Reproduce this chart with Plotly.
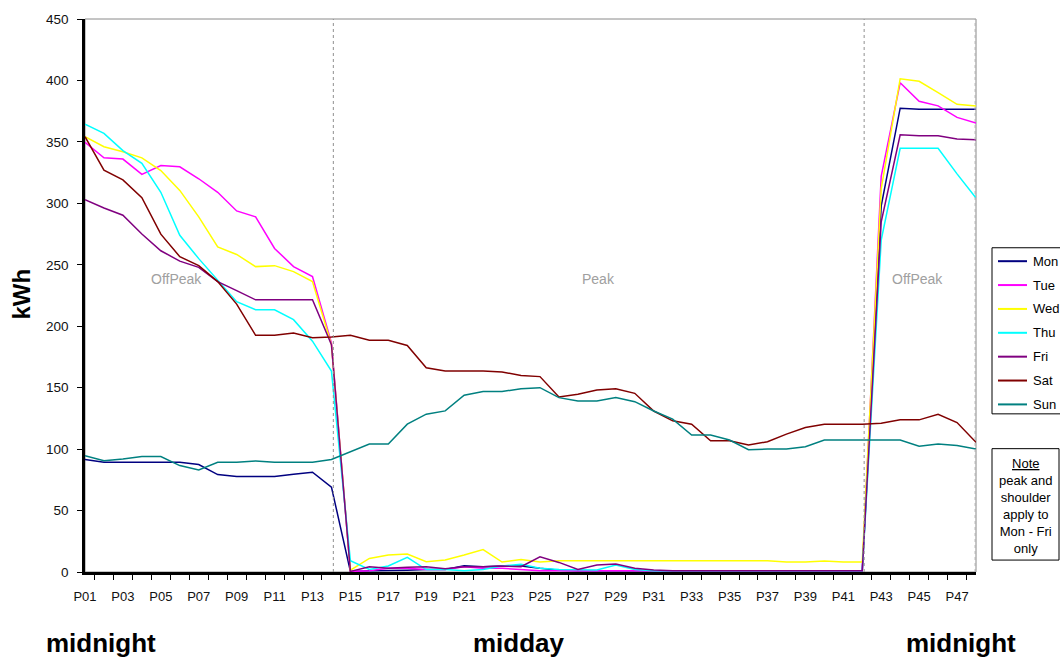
import plotly.graph_objects as go

# Half-hourly trading periods across one day
periods = [f"P{i:02d}" for i in range(1, 49)]

# Average half-hourly consumption (kWh) by day of week
mon = [91.5, 89.3, 89.3, 89.3, 89.3, 89.3, 87.4, 79.3, 77.7, 77.7, 77.7, 79.6, 81.2, 69.1,
       0.5, 1, 1, 1.5, 2, 2, 5, 4.3, 4.9, 4.9, 3, 1.5, 1, 1, 1, 1, 1, 1, 1, 1, 1, 1, 1, 1, 1, 1, 1, 1,
       298, 377.4, 376.6, 376.6, 376.6, 376.6]
tue = [349.6, 337, 336, 323.5, 330.7, 329.7, 320, 309, 293.8, 289, 263.3, 248.5, 240.4, 186.4,
       0.5, 1, 3, 3, 2, 2, 4.3, 3, 3, 2, 1, 1, 1, 1, 1, 1, 1, 1, 1, 1, 1, 1, 1, 1, 1, 1, 1, 1,
       322, 398.2, 383, 379.3, 369.9, 365.3]
wed = [354.2, 346.1, 342, 337, 326.7, 310.5, 289, 264.6, 258.4, 248.5, 249.3, 244.4, 236.3, 185,
       1.5, 11, 13.8, 14.6, 8.4, 9.7, 13.8, 18.3, 8.1, 10.2, 8.1, 9.2,
       9.2, 9.2, 9.2, 9.2, 9.2, 9.2, 9.2, 9.2, 9.2, 9.2, 9.2, 8.1, 8.1, 9.0, 8.1, 8.1,
       312, 401.4, 399.3, 390, 380.6, 379.3]
thu = [364.5, 356.9, 342.9, 332.6, 309, 274, 255, 237.7, 220, 213.4, 213.4, 205.3, 187.8, 163.5,
       9.2, 2, 4.9, 11.9, 2, 2, 1, 2, 4.9, 6.2, 3, 2, 1.6, 1.6, 5.7, 2,
       1, 1, 1, 1, 1, 1, 1, 1, 1, 1, 1, 1,
       270, 344.8, 344.8, 344.8, 324, 304.3]
fri = [303, 296.2, 290.3, 275, 261.4, 253, 247.9, 236.3, 229, 221.5, 221.5, 221.5, 221.5, 185,
       0.5, 4.3, 3, 3.8, 4.3, 2.7, 4.3, 4.3, 4.9, 4.3, 12.4, 7.8, 2, 5.7, 6.5, 3, 1.6,
       1, 1, 1, 1, 1, 1, 1, 1, 1, 1, 1,
       285, 355.8, 355, 355, 352.3, 351.8]
sat = [354.2, 327, 319.1, 304.6, 274.9, 256.6, 249.3, 236.3, 218, 192.6, 192.6, 194.5, 190.7, 191.3,
       192.6, 188.6, 188.6, 184.3, 166.2, 163.5, 163.5, 163.5, 162.7, 160, 159, 142.4, 144.6, 148.1,
       149.2, 145.4, 131,
       123, 120.3, 106.8, 106.8, 103.3, 106, 112.2, 117.6, 120.3, 120.3, 120.3, 121.1, 123.8, 123.8,
       128.4, 121.6, 105.5]
sun = [94.7, 90.6, 92, 93.9, 93.9, 86.6, 83.1, 89.3, 89.3, 90.4, 89.3, 89.3, 89.3, 91.5,
       97.9, 104.1, 104.1, 120.3, 128.4, 131.1, 143.8, 146.8, 146.8, 149.2, 150, 141.9, 139.2, 139.2,
       141.9, 138.6, 131,
       124.4, 111.4, 111.4, 107.4, 99.5, 100, 100, 102, 107.4, 107.4, 107.4, 107.4, 107.4, 102.3,
       104.1, 103, 100]

day_names = ["Mon", "Tue", "Wed", "Thu", "Fri", "Sat", "Sun"]
day_values = [mon, tue, wed, thu, fri, sat, sun]
day_colors = ["#000080", "#FF00FF", "#FFFF00", "#00FFFF", "#800080", "#800000", "#008080"]

# Tariff band boundaries (period index) and band labels
band_edges = [13.1, 41.1]
band_labels = ["OffPeak", "Peak", "OffPeak"]
band_label_pos = [4.8, 27.1, 43.9]
time_labels = ["midnight", "midday", "midnight"]

FONT = "Liberation Sans, Arial, sans-serif"
W, H = 1060, 657
ML, MR, MT, MB = 85, 84, 16, 85
PW, PH = W - ML - MR, H - MT - MB


def px_x(px):
    return (px - ML) / PW


def px_y(py):
    return (H - MB - py) / PH


x_idx = list(range(len(periods)))

fig = go.Figure()
for name, vals, col in zip(day_names, day_values, day_colors):
    fig.add_trace(go.Scatter(x=x_idx, y=vals, mode="lines", name=name,
                             line=dict(color=col, width=1.5), showlegend=False))

shapes = []
# grey plot-area frame
shapes.append(dict(type="rect", xref="paper", yref="paper", x0=0, x1=1, y0=0, y1=1,
                   line=dict(color="#8a8a8a", width=1), layer="below"))
# dotted tariff boundaries
for xe in band_edges:
    shapes.append(dict(type="line", xref="x", yref="paper", x0=xe, x1=xe, y0=0, y1=1,
                       line=dict(color="#909090", width=1, dash="dot")))
shapes.append(dict(type="line", xref="paper", yref="paper", x0=0.999, x1=0.999, y0=0, y1=1,
                   line=dict(color="#b0b0b0", width=1, dash="dot")))

annotations = []
for lab, xp in zip(band_labels, band_label_pos):
    annotations.append(dict(x=xp, y=px_y(277), xref="x", yref="paper", text=lab,
                            xanchor="center", yanchor="middle",
                            showarrow=False, font=dict(family=FONT, size=14, color="#a0a0a0")))

# legend box
shapes.append(dict(type="rect", xref="paper", yref="paper", x0=px_x(992), x1=px_x(1064),
                   y0=px_y(413), y1=px_y(246), line=dict(color="#000000", width=1),
                   fillcolor="white"))
for k, (name, col) in enumerate(zip(day_names, day_colors)):
    yy = px_y(259.5 + 24 * k)
    shapes.append(dict(type="line", xref="paper", yref="paper", x0=px_x(998), x1=px_x(1027),
                       y0=yy, y1=yy, line=dict(color=col, width=2)))
    annotations.append(dict(x=px_x(1031), y=yy, xref="paper", yref="paper", text=name,
                            xanchor="left", yanchor="middle", showarrow=False,
                            font=dict(family=FONT, size=13, color="#000000")))

# note box
shapes.append(dict(type="rect", xref="paper", yref="paper", x0=px_x(992), x1=px_x(1059),
                   y0=px_y(560), y1=px_y(448), line=dict(color="#000000", width=1),
                   fillcolor="white"))
annotations.append(dict(x=px_x(1026), y=px_y(505.5), xref="paper", yref="paper",
                        text="<u>Note</u><br>peak and<br>shoulder<br>apply to<br>Mon - Fri<br>only",
                        showarrow=False, align="center", xanchor="center", yanchor="middle",
                        font=dict(family=FONT, size=13, color="#000000")))

# axis title
annotations.append(dict(x=px_x(22), y=px_y(293), xref="paper", yref="paper", text="<b>kWh</b>",
                        textangle=-90, showarrow=False, xanchor="center", yanchor="middle",
                        font=dict(family=FONT, size=24, color="#000000")))

# time-of-day captions
for lab, xc in zip(time_labels, [101, 519, 961]):
    annotations.append(dict(x=px_x(xc), y=px_y(643), xref="paper", yref="paper",
                            text=f"<b>{lab}</b>", showarrow=False,
                            xanchor="center", yanchor="middle",
                            font=dict(family=FONT, size=26, color="#000000")))

fig.update_layout(
    width=W, height=H,
    margin=dict(l=ML, r=MR, t=MT, b=MB, pad=0),
    paper_bgcolor="white", plot_bgcolor="white",
    showlegend=False,
    shapes=shapes, annotations=annotations,
    font=dict(family=FONT, size=13, color="#111111"),
)
fig.update_xaxes(
    range=[0, len(periods) - 1], tickmode="array",
    tickvals=x_idx[::2], ticktext=periods[::2],
    ticks="", showgrid=False, zeroline=False,
    showline=True, linecolor="#000000", linewidth=3,
    ticklabelstandoff=10,
    tickfont=dict(family=FONT, size=13, color="#111111"),
    minor=dict(tickmode="linear", tick0=0.5, dtick=1, ticks="outside", ticklen=5,
               tickcolor="#000000", tickwidth=1, showgrid=False),
)
fig.update_yaxes(
    range=[0, 450], dtick=50, ticks="outside", ticklen=5, tickcolor="#000000",
    showgrid=False, zeroline=False,
    showline=True, linecolor="#000000", linewidth=2.5,
    ticklabelstandoff=6,
    tickfont=dict(family=FONT, size=13.5, color="#111111"),
)

fig.write_html("out.html")
